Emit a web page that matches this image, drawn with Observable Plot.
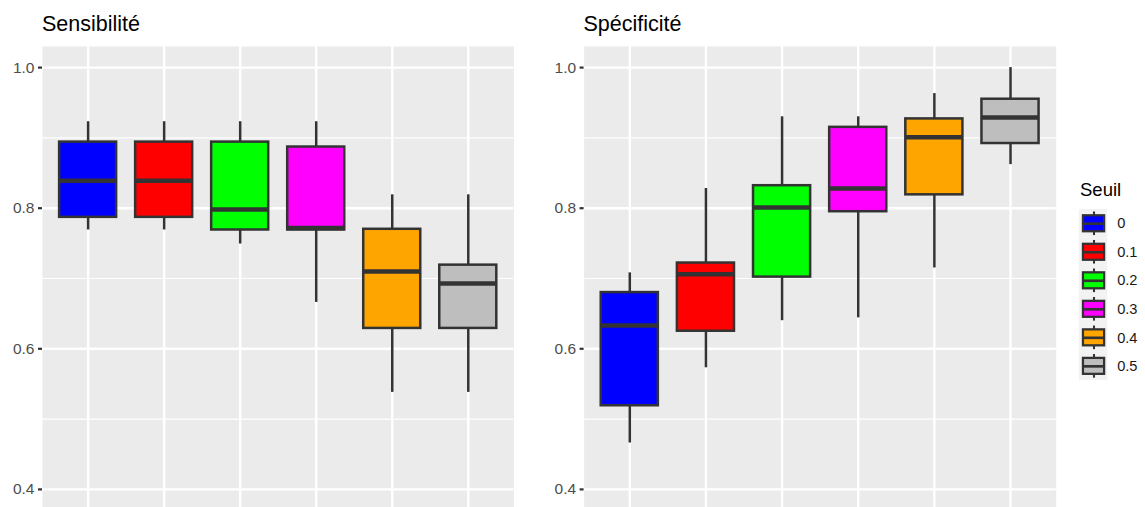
<!DOCTYPE html>
<html>
<head>
<meta charset="utf-8">
<script src="https://cdn.jsdelivr.net/npm/d3@7"></script>
<script src="https://cdn.jsdelivr.net/npm/@observablehq/plot@0.6"></script>
<style>
  html, body { margin: 0; padding: 0; background: #fff; }
  #wrap { position: relative; width: 1145px; height: 507px; overflow: hidden; background: #fff;
          font-family: "Liberation Sans", Arial, sans-serif; }
  .ptitle { position: absolute; font-size: 21.5px; line-height: 21.5px; color: #000; white-space: nowrap; }
  .ltitle { position: absolute; font-size: 18.5px; line-height: 18.5px; color: #000; white-space: nowrap; }
  .holder { position: absolute; }
  .holder svg { display: block; overflow: visible; }
</style>
</head>
<body>
<div id="wrap">
  <div class="ptitle" style="left:42px; top:13.5px;">Sensibilité</div>
  <div class="ptitle" style="left:583.5px; top:13.5px;">Spécificité</div>
  <div class="ltitle" style="left:1080px; top:181px;">Seuil</div>
  <div id="left" class="holder" style="left:0px; top:46px;"></div>
  <div id="right" class="holder" style="left:540px; top:46px;"></div>
  <div id="legend" class="holder" style="left:1077px; top:209.4px;"></div>
</div>
<script>
// ---- data ----
const seuils = ["0", "0.1", "0.2", "0.3", "0.4", "0.5"];
const colors = ["#0000FF", "#FF0000", "#00FF00", "#FF00FF", "#FFA500", "#BEBEBE"];

const sensLow  = [0.769, 0.769, 0.749, 0.666, 0.538, 0.538];
const sensQ1   = [0.787, 0.787, 0.769, 0.769, 0.629, 0.629];
const sensMed  = [0.839, 0.839, 0.798, 0.772, 0.710, 0.693];
const sensQ3   = [0.894, 0.894, 0.894, 0.887, 0.770, 0.719];
const sensHigh = [0.923, 0.923, 0.923, 0.923, 0.819, 0.819];

const specLow  = [0.466, 0.573, 0.640, 0.644, 0.715, 0.862];
const specQ1   = [0.519, 0.625, 0.702, 0.795, 0.819, 0.892];
const specMed  = [0.633, 0.706, 0.801, 0.828, 0.901, 0.929];
const specQ3   = [0.680, 0.722, 0.832, 0.915, 0.927, 0.955];
const specHigh = [0.708, 0.828, 0.930, 0.930, 0.963, 1.000];

const majorTicks = [0.4, 0.6, 0.8, 1.0];
const minorTicks = [0.5, 0.7, 0.9];

const FONT = "Liberation Sans, Arial, sans-serif";
const HALF = 0.375;

function panel(el, low, q1, med, q3, high, width, ml, mr) {
  const rows = seuils.map((s, i) => ({s, i, lo: low[i], q1: q1[i], med: med[i], q3: q3[i], hi: high[i]}));
  const chart = Plot.plot({
    width, height: 464,
    marginLeft: ml, marginRight: mr, marginTop: 0, marginBottom: 0,
    style: {fontFamily: FONT, fontSize: "15px", background: "transparent"},
    x: {type: "linear", domain: [-0.6, 5.6], axis: null},
    y: {type: "linear", domain: [0.37, 1.03]},
    color: {domain: seuils, range: colors},
    marks: [
      Plot.frame({fill: "#EBEBEB", stroke: "none"}),
      Plot.ruleY(minorTicks, {stroke: "#FFFFFF", strokeWidth: 1.2}),
      Plot.ruleY(majorTicks, {stroke: "#FFFFFF", strokeWidth: 2.4}),
      Plot.ruleX(rows, {x: "i", stroke: "#FFFFFF", strokeWidth: 2.4}),
      Plot.axisY({ticks: majorTicks, tickSize: 4, tickPadding: 4, tickFormat: d => d.toFixed(1),
                  fontSize: 15.5, stroke: "#333333", strokeWidth: 2.2, fill: "#4D4D4D", label: null}),
      Plot.ruleX(rows, {x: "i", y1: "lo", y2: "hi", stroke: "#333333", strokeWidth: 2.5}),
      Plot.rect(rows, {x1: d => d.i - HALF, x2: d => d.i + HALF, y1: "q1", y2: "q3",
                       fill: "s", stroke: "#333333", strokeWidth: 2.5}),
      Plot.ruleY(rows, {y: "med", x1: d => d.i - HALF, x2: d => d.i + HALF,
                        stroke: "#333333", strokeWidth: 4.5})
    ]
  });
  document.getElementById(el).appendChild(chart);
}

panel("left", sensLow, sensQ1, sensMed, sensQ3, sensHigh, 514, 42, 0.6);
panel("right", specLow, specQ1, specMed, specQ3, specHigh, 516, 43.6, 0.3);

// ---- legend ----
(function () {
  const rows = seuils.map((s, i) => ({s, i}));
  const W = 72, H = 181.2;
  const cx = 17.5, bw = 11.2;
  const lg = Plot.plot({
    width: W, height: H,
    marginLeft: 0, marginRight: 0, marginTop: 0, marginBottom: 0,
    style: {fontFamily: FONT, fontSize: "15px", background: "transparent"},
    x: {type: "linear", domain: [0, W], axis: null},
    y: {type: "linear", domain: [-0.5, 5.5], reverse: true, axis: null},
    color: {domain: seuils, range: colors},
    marks: [
      Plot.rect(rows, {x1: 2, x2: 32, y1: d => d.i - 0.5, y2: d => d.i + 0.5, fill: "#F2F2F2"}),
      Plot.ruleX(rows, {x: cx, y1: d => d.i - 0.414, y2: d => d.i + 0.414, stroke: "#333333", strokeWidth: 2.2}),
      Plot.rect(rows, {x1: cx - bw, x2: cx + bw, y1: d => d.i - 0.28, y2: d => d.i + 0.28,
                       fill: "s", stroke: "#333333", strokeWidth: 2.4}),
      Plot.ruleY(rows, {y: "i", x1: cx - bw, x2: cx + bw, stroke: "#333333", strokeWidth: 2.8}),
      Plot.text(rows, {x: 42, y: "i", text: "s", textAnchor: "start", fill: "#1A1A1A", fontSize: 15.5})
    ]
  });
  document.getElementById("legend").appendChild(lg);
})();
</script>
</body>
</html>
